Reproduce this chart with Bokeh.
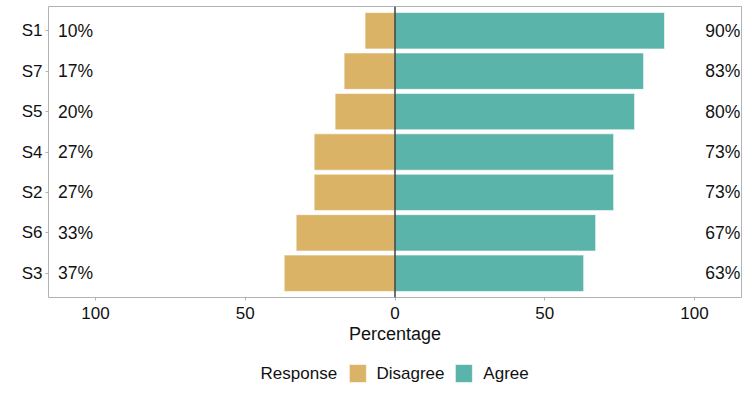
from bokeh.plotting import figure
from bokeh.layouts import column
from bokeh.models import Range1d, FixedTicker, Span, ColumnDataSource
from bokeh.core.properties import value
from bokeh.embed import file_html
from bokeh.resources import INLINE

# ---- data (top to bottom as drawn) ----
statements = ["S1", "S7", "S5", "S4", "S2", "S6", "S3"]
disagree = [10, 17, 20, 27, 27, 33, 37]
agree = [90, 83, 80, 73, 73, 67, 63]
x_ticks = [-100, -50, 0, 50, 100]
x_tick_labels = ["100", "50", "0", "50", "100"]
series_names = ["Disagree", "Agree"]
legend_title = "Response"
x_title = "Percentage"

DIS_COLOR = "#DAB366"
AGR_COLOR = "#5AB4AA"
COLORS = [DIS_COLOR, AGR_COLOR]
FONT = "Liberation Sans"
TXT = "#111111"

n = len(statements)
ypos = [n - i for i in range(n)]

src = ColumnDataSource(dict(
    y=ypos,
    dis_left=[-d for d in disagree],
    zero=[0] * n,
    agree=agree,
    dis_lab=[f"{d}%" for d in disagree],
    agr_lab=[f"{a}%" for a in agree],
    lx=[-112.5] * n,
    rx=[115.3] * n,
))

XR = (-115.7, 115.7)
W = 747
p = figure(width=W, height=357, output_backend="svg", toolbar_location=None,
           x_range=Range1d(*XR), y_range=Range1d(0.4, n + 0.6),
           min_border_left=48, min_border_right=6, min_border_top=6, min_border_bottom=60)

p.hbar(y="y", left="dis_left", right="zero", height=0.9, source=src,
       fill_color=DIS_COLOR, line_color="white", line_width=0.6)
p.hbar(y="y", left="zero", right="agree", height=0.9, source=src,
       fill_color=AGR_COLOR, line_color="white", line_width=0.6)

p.add_layout(Span(location=0, dimension="height", line_color="#222222", line_width=1.3))

p.text(x="lx", y="y", text="dis_lab", source=src, text_align="left", text_baseline="middle",
       text_font=value(FONT), text_font_size="17.5px", text_color=TXT)
p.text(x="rx", y="y", text="agr_lab", source=src, text_align="right", text_baseline="middle",
       text_font=value(FONT), text_font_size="17.5px", text_color=TXT)

p.xgrid.grid_line_color = None
p.ygrid.grid_line_color = None
p.outline_line_color = "#B3B3B3"
p.outline_line_width = 1

p.xaxis.ticker = FixedTicker(ticks=x_ticks)
p.xaxis.major_label_overrides = {t: l for t, l in zip(x_ticks, x_tick_labels)}
p.yaxis.ticker = FixedTicker(ticks=ypos)
p.yaxis.major_label_overrides = {y: s for y, s in zip(ypos, statements)}

for ax in (p.xaxis[0], p.yaxis[0]):
    ax.axis_line_color = None
    ax.major_tick_line_color = "#B3B3B3"
    ax.minor_tick_line_color = None
    ax.major_tick_in = 0
    ax.major_tick_out = 3
    ax.major_label_text_font = FONT
    ax.major_label_text_font_size = "17px"
    ax.major_label_text_color = TXT

p.xaxis.major_label_standoff = 6
p.yaxis.major_label_standoff = 3

p.xaxis.axis_label = x_title
p.xaxis.axis_label_text_font = FONT
p.xaxis.axis_label_text_font_size = "18px"
p.xaxis.axis_label_text_font_style = "normal"
p.xaxis.axis_label_text_color = TXT
p.xaxis.axis_label_standoff = 2

# ---- legend strip (same horizontal scale as the main panel) ----
lg = figure(width=W, height=37, output_backend="svg", toolbar_location=None,
            x_range=Range1d(*XR), y_range=Range1d(0, 37),
            min_border_left=48, min_border_right=6, min_border_top=0, min_border_bottom=0)
lg.axis.visible = False
lg.grid.grid_line_color = None
lg.outline_line_color = None

ly = 21
title_x = -44.9
sw_x = [-12.4, 23.0]
lab_x = [-6.2, 29.5]
lg.text(x=[title_x], y=[ly], text=[legend_title], text_align="left", text_baseline="middle",
        text_font=value(FONT), text_font_size="17px", text_color=TXT)
lg.rect(x=sw_x, y=[ly] * 2, width=17, height=18, width_units="screen", height_units="screen",
        fill_color=COLORS, line_color="white", line_width=0.6)
lg.text(x=lab_x, y=[ly] * 2, text=series_names, text_align="left", text_baseline="middle",
        text_font=value(FONT), text_font_size="17px", text_color=TXT)

layout = column(p, lg, spacing=0)
open("out.html", "w").write(file_html(layout, INLINE))
